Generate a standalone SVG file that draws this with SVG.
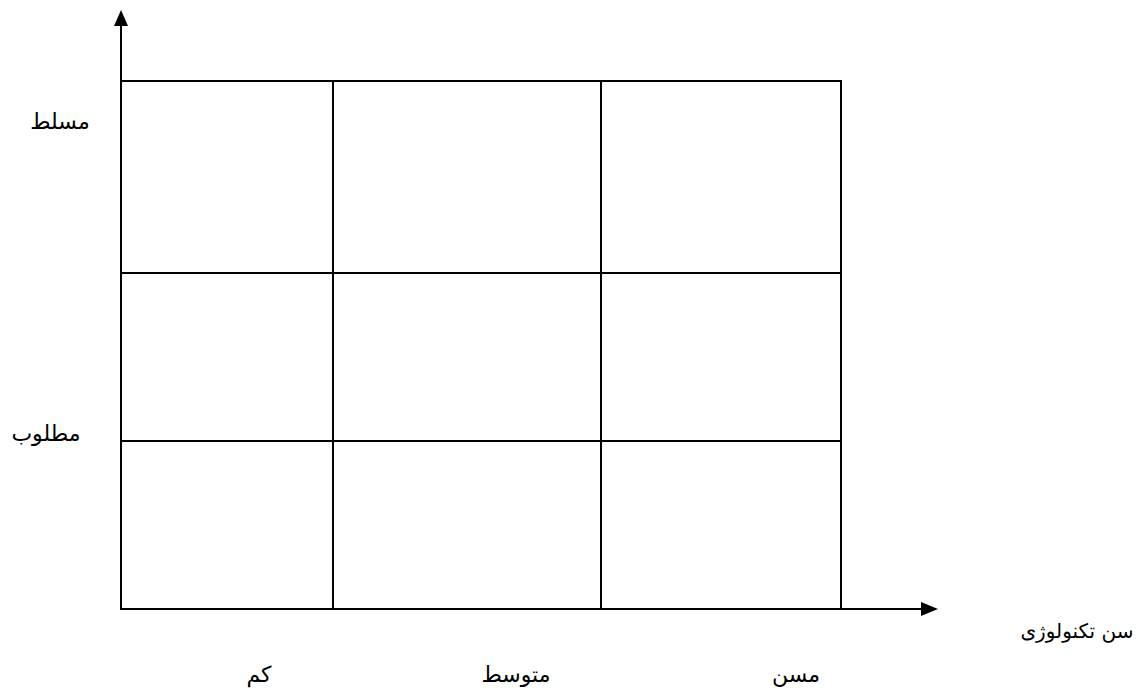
<svg xmlns="http://www.w3.org/2000/svg" width="1137" height="692" viewBox="0 0 1137 692">
<style>
.ln{stroke:#000;stroke-width:2;fill:none}
.lbl{font-family:"DejaVu Sans",sans-serif;font-size:22px;fill:#000;text-anchor:middle}
.ax{font-family:"DejaVu Sans",sans-serif;font-size:20px;fill:#000;text-anchor:middle}
</style>
<g id="grid">
<rect class="ln" x="121" y="81" width="720" height="528"/>
<line class="ln" x1="333" y1="81" x2="333" y2="609"/>
<line class="ln" x1="601" y1="81" x2="601" y2="609"/>
<line class="ln" x1="121" y1="273" x2="841" y2="273"/>
<line class="ln" x1="121" y1="441" x2="841" y2="441"/>
</g>
<g id="connectors">
<line class="ln" x1="121" y1="609" x2="121" y2="25"/>
<path d="M114,26 L121,10 L128,26 z" fill="#000"/>
<line class="ln" x1="121" y1="609" x2="922" y2="609"/>
<path d="M921,602 L938,609 L921,616 z" fill="#000"/>
</g>
<g id="labels">
<text class="lbl" x="60" y="129">مسلط</text>
<text class="lbl" x="46" y="441">مطلوب</text>
<text class="ax" x="1077" y="638">سن تکنولوژی</text>
<text class="lbl" x="259" y="682">کم</text>
<text class="lbl" x="516" y="682">متوسط</text>
<text class="lbl" x="796" y="682">مسن</text>
</g>
</svg>
